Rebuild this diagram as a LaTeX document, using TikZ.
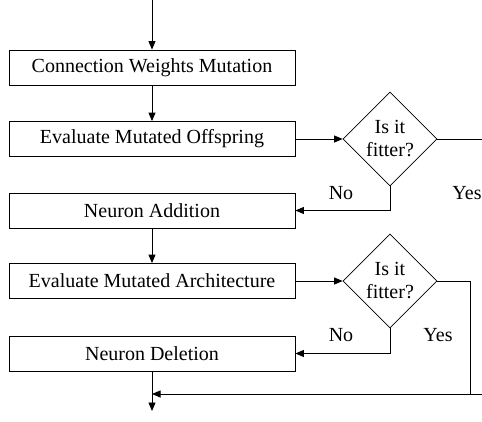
\documentclass[tikz,border=0pt]{standalone}
\usepackage{fontspec}
\setmainfont{Liberation Serif}
\usetikzlibrary{shapes.geometric,arrows.meta}
\begin{document}
\begin{tikzpicture}[x=1pt,y=-1pt,
  every node/.style={font=\fontsize{20}{23}\selectfont},
  box/.style={draw,line width=0.8pt,minimum width=286pt,minimum height=35pt,inner sep=0pt},
  dia/.style={draw,diamond,line width=0.7pt,minimum width=94pt,minimum height=94pt,inner sep=0pt},
  lbl/.style={inner sep=0pt,align=center},
  ln/.style={line width=0.8pt},
  arr/.style={line width=0.8pt,-{Triangle[length=8.5pt,width=7pt]}}]
\useasboundingbox (0,0) rectangle (482,421);
\coordinate (top) at (152,0);
\node[box] (b1) at (152,67.5) {Connection Weights Mutation};
\node[box] (b2) at (152,139) {Evaluate Mutated Offspring};
\node[box] (b3) at (152,210.5) {Neuron Addition};
\node[box] (b4) at (152,281) {Evaluate Mutated Architecture};
\node[box] (b5) at (152,353.5) {Neuron Deletion};
\node[dia] (d1) at (390,139) {};
\node[lbl] (t1) at (390,139) {Is it\\fitter?};
\node[dia] (d2) at (390,281) {};
\node[lbl] (t2) at (390,281) {Is it\\fitter?};
\node[lbl] (no1) at (341,193) {No};
\node[lbl] (yes1) at (467,193) {Yes};
\node[lbl] (no2) at (341,335) {No};
\node[lbl] (yes2) at (438,335) {Yes};
\coordinate (r1) at (482,139);
\coordinate (c2) at (470,281);
\coordinate (c3) at (470,394);
\coordinate (r3) at (482,394);
\coordinate (j) at (152,394);
\coordinate (bot) at (152,411);
\draw[arr] (top) -- (b1.north);
\draw[arr] (b1.south) -- (b2.north);
\draw[arr] (b2.east) -- (d1.west);
\draw[ln] (d1.east) -- (r1);
\draw[arr] (d1.south) |- (b3.east);
\draw[arr] (b3.south) -- (b4.north);
\draw[arr] (b4.east) -- (d2.west);
\draw[arr] (d2.south) |- (b5.east);
\draw[ln] (d2.east) -- (c2) -- (c3);
\draw[arr] (r3) -- (j);
\draw[arr] (b5.south) -- (bot);
\end{tikzpicture}
\end{document}
